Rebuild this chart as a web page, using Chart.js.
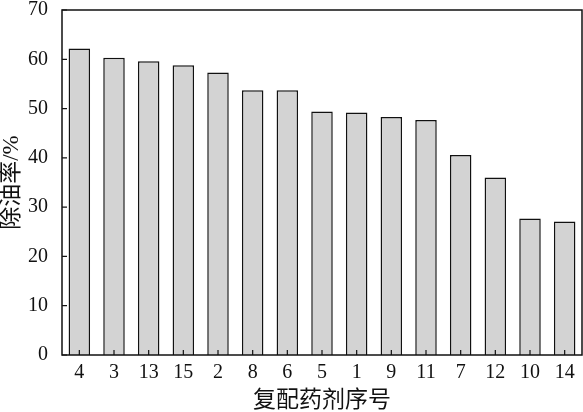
<!DOCTYPE html>
<html>
<head>
<meta charset="utf-8">
<script src="https://cdn.jsdelivr.net/npm/chart.js@4"></script>
<style>
  body { margin: 0; background: #fff; }
  #wrap { width: 583px; height: 412px; }
</style>
</head>
<body>
<div id="wrap"><canvas id="c"></canvas></div>
<script>
const categories = ['4', '3', '13', '15', '2', '8', '6', '5', '1', '9', '11', '7', '12', '10', '14'];
const oilRemoval = [62.2, 60.3, 59.6, 58.8, 57.3, 53.7, 53.7, 49.4, 49.2, 48.3, 47.7, 40.6, 36.0, 27.7, 27.1];
const yTicks = [0, 10, 20, 30, 40, 50, 60, 70];

const font = "'Liberation Serif', 'Noto Sans CJK SC', serif";

// frame and inward tick marks
const framePlugin = {
  id: 'frame',
  afterDraw(chart) {
    const { ctx, chartArea: a, scales } = chart;
    ctx.save();
    ctx.strokeStyle = '#111';
    ctx.lineWidth = 1.5;
    ctx.strokeRect(a.left, a.top, a.right - a.left, a.bottom - a.top);
    ctx.lineWidth = 1.2;
    ctx.beginPath();
    for (const v of yTicks) {
      const y = scales.y.getPixelForValue(v);
      ctx.moveTo(a.left, y);
      ctx.lineTo(a.left + 5, y);
    }
    categories.forEach((c, i) => {
      const x = scales.x.getPixelForValue(i);
      ctx.moveTo(x, a.bottom);
      ctx.lineTo(x, a.bottom - 5);
    });
    ctx.stroke();
    ctx.restore();
  }
};

new Chart(document.getElementById('c'), {
  type: 'bar',
  data: {
    labels: categories,
    datasets: [{
      data: oilRemoval,
      backgroundColor: '#d3d3d3',
      borderColor: '#111',
      borderWidth: 1.5,
      barPercentage: 0.62,
      categoryPercentage: 1.0
    }]
  },
  options: {
    responsive: true,
    maintainAspectRatio: false,
    animation: false,
    layout: { padding: { top: 10, right: 1, left: 0, bottom: 0 } },
    scales: {
      x: {
        grid: { display: false },
        border: { display: false },
        ticks: { color: '#111', font: { family: font, size: 20 }, padding: -2 },
        title: { display: true, text: '复配药剂序号', color: '#111', font: { family: font, size: 23, lineHeight: 1 }, padding: { top: 0, bottom: 0 } },
        afterFit(scale) { scale.height = 57; }
      },
      y: {
        min: 0,
        max: 70,
        grid: { display: false },
        border: { display: false },
        ticks: { stepSize: 10, color: '#111', font: { family: font, size: 20 }, padding: 6 },
        title: { display: true, text: '除油率/%', color: '#111', font: { family: font, size: 23, lineHeight: 1 }, padding: { top: 0, bottom: 0 } },
        afterFit(scale) {
          scale.width = 62;
          scale.paddingTop = 0;
          scale.paddingBottom = 0;
        }
      }
    },
    plugins: {
      legend: { display: false },
      tooltip: { enabled: false }
    }
  },
  plugins: [framePlugin]
});
</script>
</body>
</html>
